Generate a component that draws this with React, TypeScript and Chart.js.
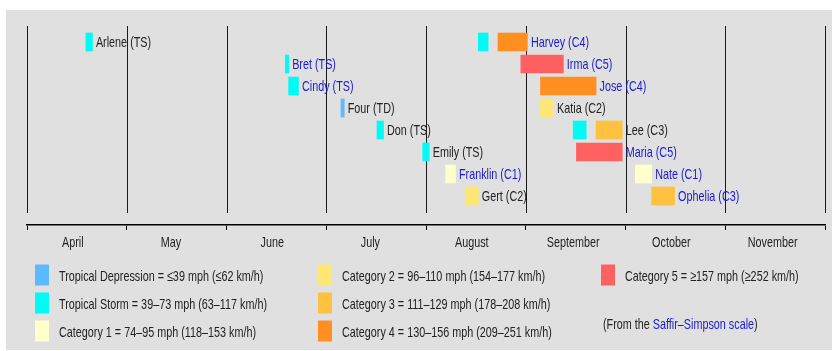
import { useEffect, useRef } from "react";
import { Chart, registerables } from "chart.js";

Chart.register(...registerables);

// ---------- data ----------
const months = ["April", "May", "June", "July", "August", "September", "October", "November"];
const monthLabelDates = ["2017-04-15", "2017-05-15", "2017-06-15", "2017-07-15", "2017-08-15", "2017-09-15", "2017-10-15", "2017-11-15"];
const seasonStart = "2017-04-01";
const seasonEnd = "2017-12-01";

const stormNames = ["Arlene", "Bret", "Cindy", "Four", "Don", "Emily", "Franklin", "Gert", "Harvey", "Irma", "Jose", "Katia", "Lee", "Maria", "Nate", "Ophelia"];
const stormPeaks = ["TS", "TS", "TS", "TD", "TS", "TS", "C1", "C2", "C4", "C5", "C4", "C2", "C3", "C5", "C1", "C3"];
const stormRows = [0, 1, 2, 3, 4, 5, 6, 7, 0, 1, 2, 3, 4, 5, 6, 7];
const stormLinked = [false, true, true, false, false, false, true, false, true, true, true, false, false, true, true, true];

const segStorms = ["Arlene", "Bret", "Cindy", "Four", "Don", "Emily", "Franklin", "Gert", "Harvey", "Harvey", "Irma", "Jose", "Katia", "Lee", "Lee", "Maria", "Nate", "Ophelia"];
const segStarts = ["2017-04-19", "2017-06-19", "2017-06-20", "2017-07-06", "2017-07-17", "2017-07-31", "2017-08-07", "2017-08-13", "2017-08-17", "2017-08-23", "2017-08-30", "2017-09-05", "2017-09-05", "2017-09-15", "2017-09-22", "2017-09-16", "2017-10-04", "2017-10-09"];
const segEnds = ["2017-04-21", "2017-06-20", "2017-06-23", "2017-07-07", "2017-07-19", "2017-08-02", "2017-08-10", "2017-08-17", "2017-08-20", "2017-09-01", "2017-09-12", "2017-09-22", "2017-09-09", "2017-09-19", "2017-09-30", "2017-09-30", "2017-10-09", "2017-10-16"];
const segCats = ["TS", "TS", "TS", "TD", "TS", "TS", "C1", "C2", "TS", "C4", "C5", "C4", "C2", "TS", "C3", "C5", "C1", "C3"];

const catKeys = ["TD", "TS", "C1", "C2", "C3", "C4", "C5"];
const catColors = ["#5ebaff", "#00faf4", "#ffffcc", "#ffe775", "#ffc140", "#ff8f20", "#ff6060"];
const catLegend = [
  "Tropical Depression = ≤39 mph (≤62 km/h)",
  "Tropical Storm = 39–73 mph (63–117 km/h)",
  "Category 1 = 74–95 mph (118–153 km/h)",
  "Category 2 = 96–110 mph (154–177 km/h)",
  "Category 3 = 111–129 mph (178–208 km/h)",
  "Category 4 = 130–156 mph (209–251 km/h)",
  "Category 5 = ≥157 mph (≥252 km/h)",
];
const sourceText = ["(From the ", "Saffir–Simpson scale", ")"];

// ---------- helpers ----------
const DAY = 86400000;
const dayOf = (s: string) => (Date.parse(s + "T00:00:00Z") - Date.parse(seasonStart + "T00:00:00Z")) / DAY;
const FONT = "15px 'Liberation Sans', Arial, sans-serif";
const SX = 0.72; // horizontal condensation of the narrow face
const TEXT = "#222222";
const LINK = "#1a1ad0";

function narrowText(ctx: CanvasRenderingContext2D, t: string, x: number, y: number, align: "left" | "center" = "left") {
  const w = ctx.measureText(t).width * SX;
  const x0 = align === "center" ? x - w / 2 : x;
  ctx.save();
  ctx.translate(x0, y);
  ctx.scale(SX, 1);
  ctx.textAlign = "left";
  ctx.fillText(t, 0, 0);
  ctx.restore();
  return w;
}

const bgPlugin = {
  id: "bg",
  beforeDraw(chart: any) {
    const ctx = chart.ctx;
    ctx.save();
    ctx.fillStyle = "#ffffff";
    ctx.fillRect(0, 0, chart.width, chart.height);
    ctx.fillStyle = "#e0e0e0";
    ctx.fillRect(6, 10, chart.width - 6, chart.height - 11);
    ctx.restore();
  },
};

const gridPlugin = {
  id: "monthLines",
  beforeDatasetsDraw(chart: any) {
    const ms = chart.scales.month;
    const ctx = chart.ctx;
    const { top, bottom } = chart.chartArea;
    ctx.save();
    ctx.strokeStyle = "#1a1a1a";
    ctx.lineWidth = 1;
    for (let i = 0; i <= months.length; i++) {
      const x = Math.round(ms.getPixelForValue(i - 0.5)) + 0.5;
      ctx.beginPath();
      ctx.moveTo(x, top);
      ctx.lineTo(x, bottom - 12);
      ctx.stroke();
    }
    ctx.restore();
  },
};

const labelPlugin = {
  id: "stormLabels",
  afterDatasetsDraw(chart: any) {
    const xs = chart.scales.x;
    const ys = chart.scales.y;
    const ctx = chart.ctx;
    ctx.save();
    ctx.font = FONT;
    ctx.textBaseline = "alphabetic";
    stormNames.forEach((name, i) => {
      let end = -Infinity;
      segStorms.forEach((s, j) => {
        if (s === name) end = Math.max(end, dayOf(segEnds[j]));
      });
      const x = xs.getPixelForValue(end) + 3.5;
      const y = ys.getPixelForValue(stormRows[i]) + 5.3;
      ctx.fillStyle = stormLinked[i] ? LINK : TEXT;
      narrowText(ctx, `${name} (${stormPeaks[i]})`, x, y);
    });
    // month labels
    const bottom = chart.chartArea.bottom;
    ctx.fillStyle = TEXT;
    months.forEach((m, i) => {
      narrowText(ctx, m, xs.getPixelForValue(dayOf(monthLabelDates[i])), bottom + 22, "center");
    });
    ctx.restore();
  },
};

const legendPlugin = {
  id: "ssLegend",
  afterDraw(chart: any) {
    const ctx = chart.ctx;
    const colX = [35, 318, 601];
    const rowY = [264.5, 292.5, 320.5];
    ctx.save();
    ctx.font = FONT;
    ctx.textBaseline = "alphabetic";
    catKeys.forEach((k, i) => {
      const c = Math.floor(i / 3);
      const r = i % 3;
      ctx.fillStyle = catColors[i];
      ctx.fillRect(colX[c], rowY[r], 14, 21);
      ctx.fillStyle = TEXT;
      narrowText(ctx, catLegend[i], colX[c] + 24, rowY[r] + 16);
    });
    let x = 603;
    const y = 329;
    sourceText.forEach((t, i) => {
      ctx.fillStyle = i === 1 ? LINK : TEXT;
      x += narrowText(ctx, t, x, y);
    });
    ctx.restore();
  },
};

export default function App() {
  const ref = useRef<HTMLCanvasElement | null>(null);

  useEffect(() => {
    document.body.style.margin = "0";
    const canvas = ref.current;
    if (!canvas) return;

    const datasets = catKeys.map((k, ci) => ({
      label: k,
      data: segCats
        .map((c, j) => ({ c, j }))
        .filter((o) => o.c === k)
        .map((o) => ({
          x: [dayOf(segStarts[o.j]), dayOf(segEnds[o.j])],
          y: stormRows[stormNames.indexOf(segStorms[o.j])],
        })),
      backgroundColor: catColors[ci],
      borderWidth: 0,
      grouped: false,
      barPercentage: 1,
      categoryPercentage: 1,
      maxBarThickness: 18,
      xAxisID: "x",
      yAxisID: "y",
    }));

    const chart = new Chart(canvas, {
      type: "bar",
      data: { datasets: datasets as any },
      options: {
        indexAxis: "y",
        responsive: false,
        animation: false,
        events: [],
        layout: { padding: { left: 27, right: 7, top: 26, bottom: 96 } },
        plugins: { legend: { display: false }, tooltip: { enabled: false } },
        scales: {
          x: { type: "linear", min: 0, max: dayOf(seasonEnd), display: false, offset: false },
          y: {
            type: "linear",
            reverse: true,
            offset: false,
            min: -0.727,
            max: 8.318,
            display: false,
            ticks: { stepSize: 1, includeBounds: false },
          } as any,
          month: {
            type: "category",
            axis: "x",
            position: "bottom",
            labels: months,
            offset: true,
            grid: { offset: true, drawOnChartArea: false, drawTicks: true, tickLength: 5, color: "#000", lineWidth: 1 },
            border: { display: true, color: "#000", width: 1.5 },
            ticks: { display: false },
            afterFit: (s: any) => {
              s.height = 30;
            },
          } as any,
        },
      },
      plugins: [bgPlugin, gridPlugin, labelPlugin, legendPlugin],
    });
    return () => chart.destroy();
  }, []);

  return (
    <div style={{ width: 832, height: 351 }}>
      <canvas ref={ref} width={832} height={351} style={{ display: "block" }} />
    </div>
  );
}
